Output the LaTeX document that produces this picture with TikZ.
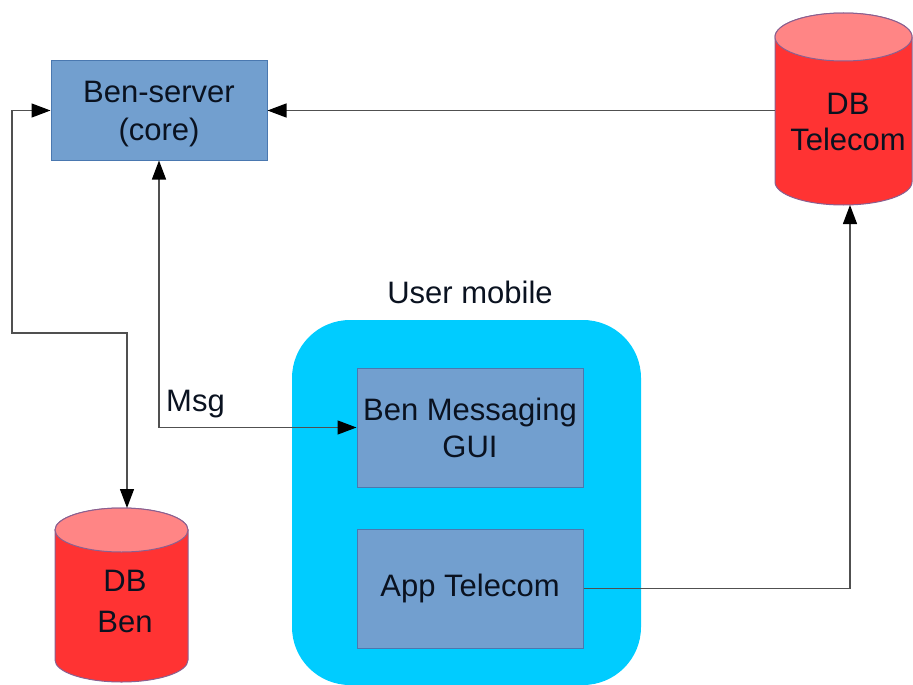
\documentclass[tikz,border=0pt]{standalone}
\usepackage{fontspec}
\setmainfont{Liberation Sans}
\usetikzlibrary{arrows.meta}
\definecolor{boxfill}{HTML}{729FCF}
\definecolor{boxline}{HTML}{4A78B0}
\definecolor{cylred}{HTML}{FF3333}
\definecolor{cyltop}{HTML}{FF8585}
\definecolor{cylline}{HTML}{8A6090}
\definecolor{mobile}{HTML}{00CCFF}
\definecolor{connline}{HTML}{505050}
\definecolor{txt}{HTML}{0A1220}
\begin{document}
\begin{tikzpicture}[x=1pt,y=-1pt,
  bluebox/.style={draw=boxline, fill=boxfill, line width=1pt, align=center,
    font=\fontsize{31}{37}\selectfont, text=txt, inner sep=0pt},
  lbl/.style={align=center, font=\fontsize{31}{38}\selectfont, text=txt, inner sep=0pt},
  holder/.style={draw=none, inner sep=0pt},
  conn/.style={draw=connline, line width=1.3pt},
  tip/.style={-{Triangle[length=19pt,width=14pt,color=black]}},
  twotip/.style={{Triangle[length=19pt,width=14pt,color=black]}-{Triangle[length=19pt,width=14pt,color=black]}},
  cyl/.style={draw=cylline, line width=1pt}
]
\useasboundingbox (0,0) rectangle (913,685);

% User mobile container
\node[lbl] (umlbl) at (470,292) {User mobile};
\path[fill=mobile, rounded corners=58pt] (292,320) rectangle (641,685);

% Boxes
\node[bluebox, minimum width=216pt, minimum height=99pt] (ben) at (159,110.5) {};
\node[lbl] (bentxt) at (159,114.5) {Ben-server\\(core)};
\node[bluebox, minimum width=226pt, minimum height=119pt] (gui) at (470,427.5) {Ben Messaging\\GUI};
\node[bluebox, minimum width=226pt, minimum height=119pt] (app) at (470,588.5) {App Telecom};

% DB Telecom cylinder
\node[holder, minimum width=137pt, minimum height=192pt] (dbt) at (843.5,109) {};
\path[cyl, fill=cylred] (775,37) -- (775,182) arc[start angle=180, end angle=360, x radius=68.5, y radius=-23] -- (912,37) arc[start angle=0, end angle=180, x radius=68.5, y radius=-24] -- cycle;
\path[cyl, fill=cyltop] (843.5,37) ellipse[x radius=68.5, y radius=24];
\node[lbl, font=\fontsize{31}{36}\selectfont] (dbtlbl) at (848,122) {DB\\Telecom};

% DB Ben cylinder
\node[holder, minimum width=133pt, minimum height=174pt] (dbb) at (121.5,595) {};
\path[cyl, fill=cylred] (55,530) -- (55,660) arc[start angle=180, end angle=360, x radius=66.5, y radius=-22] -- (188,530) arc[start angle=0, end angle=180, x radius=66.5, y radius=-22] -- cycle;
\path[cyl, fill=cyltop] (121.5,530) ellipse[x radius=66.5, y radius=22];
\node[lbl, font=\fontsize{31}{41}\selectfont] (dbblbl) at (125,601) {DB\\Ben};

% Connectors
\coordinate (l1) at (12,110.5);
\coordinate (l2) at (12,333);
\coordinate (l3) at (127,333);
\coordinate (dbbtop) at (127,508);
\draw[conn, twotip] (ben.west) -- (l1) -- (l2) -- (l3) -- (dbbtop);

\coordinate (m1) at (159,427.5);
\draw[conn, twotip] (ben.south) -- (m1) -- (gui.west);
\node[lbl, anchor=south west] (msg) at (166,418) {Msg};

\draw[conn, tip] (dbt.west |- ben.east) -- (ben.east);

\coordinate (a1) at (850,588.5);
\coordinate (dbtbot) at (850,205);
\draw[conn, tip] (app.east) -- (a1) -- (dbtbot);
\end{tikzpicture}
\end{document}
